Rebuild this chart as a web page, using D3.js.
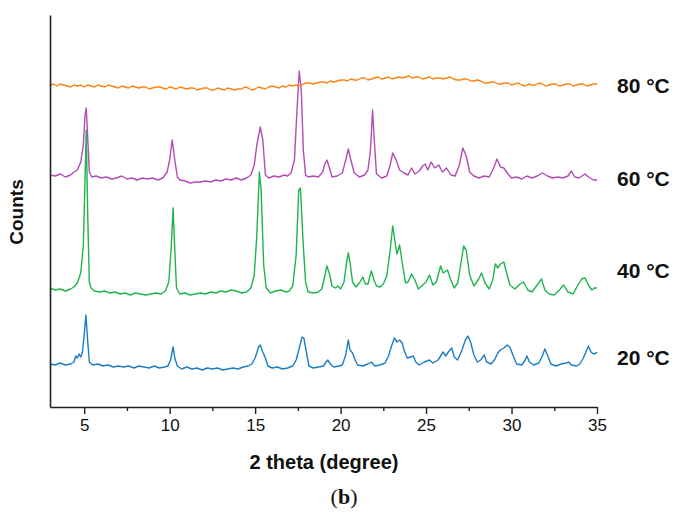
<!DOCTYPE html>
<html><head><meta charset="utf-8">
<script src="https://cdn.jsdelivr.net/npm/d3@7"></script>
<style>body{margin:0;background:#fff}svg{display:block}</style>
</head><body>
<svg id="c" width="686" height="515"></svg>
<script>
// 2theta / intensity (arbitrary counts, offset-stacked) pairs
const xrd20 = [[3.0,43],[3.3,42],[3.6,44],[3.9,42],[4.2,43],[4.4,45],[4.5,51],[4.6,49],[4.7,53],[4.8,50],[4.9,55],[5.0,72],[5.1,92],[5.2,67],[5.3,45],[5.5,42],[5.8,43],[6.1,41],[6.4,42],[6.7,40],[7.0,41],[7.3,40],[7.6,41],[7.9,39],[8.2,41],[8.5,40],[8.8,39],[9.1,41],[9.4,39],[9.7,40],[9.9,41],[10.05,47],[10.2,60],[10.3,49],[10.45,41],[10.7,38],[11.0,40],[11.3,38],[11.6,39],[11.9,37],[12.2,39],[12.5,38],[12.8,39],[13.1,37],[13.4,38],[13.7,39],[14.0,38],[14.3,40],[14.6,41],[14.8,43],[15.0,49],[15.2,60],[15.3,62],[15.45,55],[15.6,49],[15.75,41],[16.0,39],[16.3,40],[16.6,38],[16.9,39],[17.2,41],[17.4,47],[17.6,60],[17.75,70],[17.85,69],[18.0,55],[18.15,41],[18.4,39],[18.7,40],[19.0,41],[19.15,45],[19.25,47],[19.4,43],[19.6,40],[19.9,41],[20.1,42],[20.3,52],[20.45,67],[20.55,57],[20.7,54],[20.85,47],[21.0,42],[21.3,41],[21.6,43],[21.8,45],[22.0,41],[22.3,42],[22.6,44],[22.8,51],[23.0,62],[23.15,69],[23.3,65],[23.45,67],[23.6,64],[23.75,55],[23.9,49],[24.1,50],[24.25,51],[24.4,45],[24.6,42],[24.9,45],[25.2,47],[25.4,44],[25.7,47],[26.0,55],[26.15,51],[26.3,55],[26.5,59],[26.65,50],[26.85,47],[27.1,57],[27.3,67],[27.45,71],[27.6,65],[27.8,52],[28.0,45],[28.2,47],[28.4,52],[28.55,45],[28.8,43],[29.0,47],[29.2,54],[29.35,57],[29.55,59],[29.75,62],[29.9,60],[30.1,51],[30.3,43],[30.6,42],[30.8,47],[30.9,51],[31.05,45],[31.3,42],[31.6,44],[31.8,51],[31.95,58],[32.1,52],[32.3,43],[32.6,41],[32.9,43],[33.2,44],[33.35,45],[33.5,42],[33.8,41],[34.0,43],[34.2,49],[34.4,57],[34.5,61],[34.65,55],[34.8,53],[34.95,54],[35.0,55]];
const xrd40 = [[3.0,119],[3.3,117],[3.6,118],[3.9,116],[4.2,118],[4.4,120],[4.6,124],[4.8,134],[4.95,162],[5.05,227],[5.12,277],[5.2,197],[5.3,125],[5.4,119],[5.6,116],[5.9,115],[6.2,116],[6.5,114],[6.8,115],[7.1,113],[7.4,114],[7.7,112],[8.0,114],[8.3,113],[8.6,112],[8.9,113],[9.2,114],[9.5,113],[9.75,116],[9.95,125],[10.1,162],[10.2,199],[10.3,157],[10.4,119],[10.6,113],[10.9,114],[11.2,112],[11.5,113],[11.8,114],[12.1,113],[12.4,115],[12.7,114],[13.0,116],[13.3,115],[13.6,117],[13.9,116],[14.2,114],[14.5,115],[14.75,119],[14.95,132],[15.1,172],[15.25,235],[15.35,217],[15.5,142],[15.65,119],[15.9,114],[16.2,116],[16.5,117],[16.8,115],[17.0,116],[17.2,121],[17.4,152],[17.55,217],[17.65,219],[17.8,167],[17.95,125],[18.1,115],[18.4,114],[18.7,115],[18.9,118],[19.05,129],[19.2,141],[19.35,133],[19.5,121],[19.7,119],[19.85,121],[20.0,118],[20.2,125],[20.35,145],[20.45,154],[20.55,145],[20.7,125],[20.9,120],[21.1,124],[21.3,130],[21.45,123],[21.6,123],[21.8,136],[21.95,127],[22.1,121],[22.3,120],[22.5,123],[22.7,131],[22.9,157],[23.05,181],[23.2,163],[23.3,153],[23.45,162],[23.6,145],[23.8,124],[23.95,125],[24.15,133],[24.35,127],[24.55,118],[24.8,122],[25.0,125],[25.2,132],[25.4,122],[25.6,125],[25.85,141],[26.0,134],[26.25,137],[26.45,127],[26.65,119],[26.85,124],[27.05,145],[27.2,161],[27.35,157],[27.55,132],[27.8,121],[28.05,127],[28.25,134],[28.45,124],[28.7,118],[28.9,127],[29.05,143],[29.2,139],[29.35,143],[29.55,145],[29.7,135],[29.9,122],[30.2,118],[30.5,123],[30.7,125],[30.95,117],[31.2,115],[31.5,122],[31.75,128],[31.95,117],[32.2,113],[32.5,112],[32.8,117],[33.05,122],[33.3,115],[33.6,113],[33.85,121],[34.1,128],[34.3,129],[34.5,122],[34.7,117],[34.85,119],[35.0,119]];
const xrd60 = [[3.0,232],[3.3,231],[3.6,233],[3.9,230],[4.2,232],[4.4,235],[4.6,237],[4.8,245],[4.95,262],[5.05,292],[5.12,299],[5.2,272],[5.3,235],[5.45,230],[5.7,231],[6.0,229],[6.3,230],[6.6,228],[6.9,229],[7.2,231],[7.5,228],[7.8,229],[8.1,227],[8.4,229],[8.7,228],[9.0,229],[9.3,227],[9.6,229],[9.85,235],[10.0,247],[10.15,267],[10.3,247],[10.45,230],[10.6,227],[10.9,226],[11.2,224],[11.5,225],[11.8,225],[12.1,226],[12.4,225],[12.7,227],[13.0,226],[13.3,228],[13.6,227],[13.9,229],[14.2,227],[14.5,229],[14.75,232],[14.95,242],[15.1,262],[15.3,280],[15.45,267],[15.6,232],[15.8,229],[16.1,231],[16.4,230],[16.7,232],[16.9,231],[17.1,234],[17.3,247],[17.45,297],[17.58,336],[17.7,317],[17.82,257],[17.95,232],[18.1,230],[18.4,231],[18.7,230],[18.95,235],[19.1,244],[19.2,247],[19.35,239],[19.5,230],[19.8,231],[20.1,234],[20.3,247],[20.45,258],[20.6,247],[20.8,234],[21.1,230],[21.4,232],[21.6,237],[21.75,257],[21.87,297],[21.97,267],[22.1,233],[22.4,229],[22.7,231],[22.9,242],[23.05,254],[23.25,247],[23.45,237],[23.7,234],[23.95,232],[24.15,239],[24.35,233],[24.6,236],[24.8,241],[24.95,243],[25.1,237],[25.3,245],[25.5,239],[25.75,242],[25.95,235],[26.2,239],[26.45,232],[26.7,231],[26.95,242],[27.15,259],[27.35,251],[27.55,235],[27.8,231],[28.1,229],[28.4,231],[28.7,230],[28.95,239],[29.15,248],[29.35,240],[29.55,239],[29.8,233],[30.0,229],[30.3,230],[30.6,228],[30.9,231],[31.2,229],[31.5,231],[31.8,234],[32.1,231],[32.4,229],[32.7,230],[33.0,229],[33.3,231],[33.5,236],[33.7,230],[33.95,229],[34.3,233],[34.5,230],[34.8,227],[35.0,227]];
const xrd80 = [[3.0,322],[3.2,323],[3.4,321],[3.6,323],[3.8,322],[4.0,321],[4.2,320],[4.4,322],[4.6,321],[4.8,322],[5.0,320],[5.2,322],[5.4,321],[5.6,320],[5.8,322],[6.0,321],[6.2,320],[6.4,322],[6.6,321],[6.8,320],[7.0,319],[7.2,321],[7.4,320],[7.6,319],[7.8,321],[8.0,320],[8.2,319],[8.4,320],[8.6,320],[8.8,318],[9.0,319],[9.2,320],[9.4,320],[9.6,319],[9.8,318],[10.0,320],[10.2,319],[10.4,318],[10.6,320],[10.8,319],[11.0,318],[11.2,319],[11.4,319],[11.6,317],[11.8,318],[12.0,319],[12.2,319],[12.4,317],[12.6,317],[12.8,319],[13.0,318],[13.2,317],[13.4,319],[13.6,318],[13.8,317],[14.0,318],[14.2,318],[14.4,320],[14.6,319],[14.8,317],[15.0,318],[15.2,320],[15.4,319],[15.6,318],[15.8,320],[16.0,321],[16.2,320],[16.4,319],[16.6,321],[16.8,320],[17.0,322],[17.2,321],[17.4,322],[17.6,321],[17.8,323],[18.0,324],[18.2,324],[18.4,323],[18.6,324],[18.8,325],[19.0,325],[19.2,324],[19.4,326],[19.6,325],[19.8,326],[20.0,327],[20.2,327],[20.4,326],[20.6,328],[20.8,327],[21.0,327],[21.2,329],[21.4,329],[21.6,327],[21.8,328],[22.0,329],[22.2,330],[22.4,328],[22.6,329],[22.8,330],[23.0,328],[23.2,329],[23.4,330],[23.6,329],[23.8,330],[24.0,331],[24.2,329],[24.4,330],[24.6,330],[24.8,328],[25.0,329],[25.2,330],[25.4,328],[25.6,329],[25.8,329],[26.0,328],[26.2,329],[26.4,330],[26.6,328],[26.8,327],[27.0,327],[27.2,328],[27.4,328],[27.6,326],[27.8,326],[28.0,327],[28.2,326],[28.4,324],[28.6,324],[28.8,325],[29.0,325],[29.2,323],[29.4,323],[29.6,324],[29.8,324],[30.0,322],[30.2,323],[30.4,324],[30.6,322],[30.8,321],[31.0,323],[31.2,322],[31.4,322],[31.6,324],[31.8,323],[32.0,321],[32.2,322],[32.4,323],[32.6,323],[32.8,321],[33.0,322],[33.2,323],[33.4,323],[33.6,321],[33.8,322],[34.0,323],[34.2,323],[34.4,321],[34.6,322],[34.8,323],[35.0,323]];

const seriesNames = ["20 °C", "40 °C", "60 °C", "80 °C"];
const seriesColors = ["#1a7ec4", "#1eb44e", "#b44bb4", "#ff8214"];
const labelLevels = [50, 137, 229, 322];
const xTicks = [5, 10, 15, 20, 25, 30, 35];
const xMinorTicks = [7.5, 12.5, 17.5, 22.5, 27.5, 32.5];
const seriesData = [xrd20, xrd40, xrd60, xrd80];

const svg = d3.select("#c");
const m = {left: 50, right: 597, top: 15, bottom: 407};
const x = d3.scaleLinear().domain([3, 35]).range([m.left, m.right]);
const y = d3.scaleLinear().domain([0, 400]).range([407, 7]);

const line = d3.line().x(d => x(d[0])).y(d => y(d[1]));

seriesData.forEach((s, i) => {
  svg.append("path").datum(s)
    .attr("d", line)
    .attr("fill", "none")
    .attr("stroke", seriesColors[i])
    .attr("stroke-width", 1.4)
    .attr("stroke-linejoin", "round");
});

// labels at right
seriesNames.forEach((name, i) => {
  svg.append("text")
    .attr("x", 617)
    .attr("y", y(labelLevels[i]))
    .attr("dy", "0.36em")
    .attr("font-family", "Liberation Sans, Arial, sans-serif")
    .attr("font-weight", "bold")
    .attr("font-size", 21)
    .attr("fill", "#111")
    .text(name);
});

// x axis
const xAxis = d3.axisBottom(x).tickValues(xTicks).tickSize(7).tickSizeOuter(0).tickPadding(5).tickFormat(d3.format("d"));
const gx = svg.append("g").attr("transform", `translate(0,${m.bottom})`).call(xAxis);
gx.select(".domain").attr("stroke", "#222").attr("stroke-width", 1.6);
gx.selectAll(".tick line").attr("stroke", "#222").attr("stroke-width", 1.4);
gx.selectAll(".tick text").attr("font-family", "Liberation Sans, Arial, sans-serif").attr("font-size", 17).attr("fill", "#111");
const xMinor = d3.axisBottom(x).tickValues(xMinorTicks).tickSize(4).tickFormat("");
const gxm = svg.append("g").attr("transform", `translate(0,${m.bottom})`).call(xMinor);
gxm.select(".domain").remove();
gxm.selectAll(".tick line").attr("stroke", "#222").attr("stroke-width", 1.4);

// y axis (no ticks)
const yAxis = d3.axisLeft(d3.scaleLinear().domain([0, 1]).range([m.bottom, m.top])).tickValues([]).tickSizeOuter(0);
const gy = svg.append("g").attr("transform", `translate(${m.left},0)`).call(yAxis);
gy.select(".domain").attr("stroke", "#222").attr("stroke-width", 1.6);

// axis titles
svg.append("text")
  .attr("x", 324).attr("y", 469)
  .attr("text-anchor", "middle")
  .attr("font-family", "Liberation Sans, Arial, sans-serif")
  .attr("font-weight", "bold").attr("font-size", 20).attr("fill", "#111")
  .text("2 theta (degree)");
svg.append("text")
  .attr("transform", "translate(23,212) rotate(-90)")
  .attr("text-anchor", "middle")
  .attr("font-family", "Liberation Sans, Arial, sans-serif")
  .attr("font-weight", "bold").attr("font-size", 19).attr("fill", "#111")
  .text("Counts");
const cap = svg.append("text")
  .attr("x", 344).attr("y", 504)
  .attr("text-anchor", "middle")
  .attr("font-family", "Liberation Serif, DejaVu Serif, serif")
  .attr("font-size", 22).attr("fill", "#111");
cap.append("tspan").text("(");
cap.append("tspan").attr("font-weight", "bold").text("b");
cap.append("tspan").text(")");
</script>
</body></html>
